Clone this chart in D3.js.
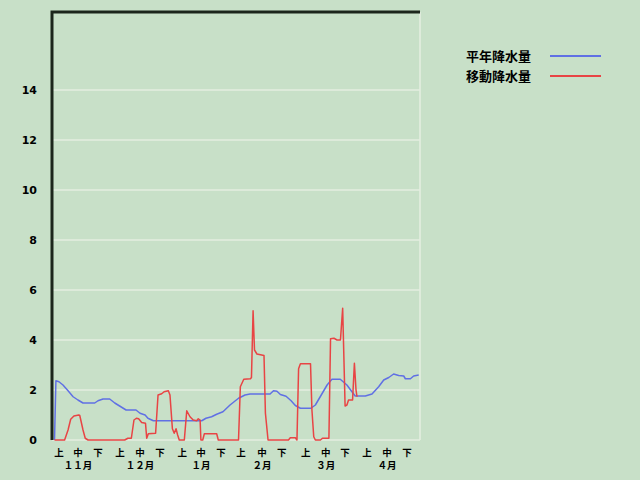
<!DOCTYPE html>
<html><head><meta charset="utf-8">
<script src="https://cdn.jsdelivr.net/npm/d3@7"></script>
<style>
html,body{margin:0;padding:0;background:#c8e0c8;}
svg{display:block;}
</style></head>
<body>
<svg id="chart" width="640" height="480"></svg>
<script>
// ---- data (x = day index from 1 Nov) ----
const normalDays = [0,0.7,2.2,4.2,6.7,9.2,11.6,14.1,19.9,21.5,24.0,27.3,29.8,32.2,35.4,40.3,42.3,44.8,46.2,48.9,72.8,74.9,77.7,80.2,83.3,86.8,91.0,94.2,96.7,106.6,108.3,110.0,111.7,114.5,117.0,119.1,121.6,126.8,129.0,131.4,134.8,137.2,141.3,144.6,147.1,148.7,153.7,157.0,160.3,162.8,165.3,167.7,170.2,172.7,173.5,176.0,177.6,180.1];
const normalValues = [0,2.37,2.33,2.2,1.97,1.73,1.6,1.48,1.48,1.57,1.64,1.64,1.48,1.36,1.2,1.2,1.07,1.0,0.87,0.77,0.77,0.87,0.93,1.03,1.13,1.4,1.67,1.8,1.84,1.84,1.97,1.95,1.82,1.75,1.57,1.38,1.27,1.27,1.4,1.73,2.2,2.43,2.43,2.2,1.93,1.76,1.76,1.84,2.13,2.4,2.5,2.64,2.58,2.56,2.45,2.45,2.56,2.6];
const movingDays = [0,5.0,6.7,8.0,9.6,12.0,12.5,14.1,15.2,16.6,34.7,36.3,38.0,39.3,40.5,41.6,43.1,45.0,45.6,46.4,50.0,51.2,53.0,54.2,56.3,57.1,58.3,59.2,60.1,60.9,61.7,64.2,65.4,67.0,68.6,70.3,71.1,72.0,72.4,73.3,74.1,80.2,81.0,91.0,91.9,93.6,96.9,97.4,98.2,98.9,100.1,103.6,104.3,105.6,115.7,116.6,119.1,119.9,120.7,121.6,126.6,127.3,128.2,129.0,131.5,132.5,135.7,136.5,138.2,139.7,141.4,142.5,143.7,144.6,145.4,147.4,148.3,149.1,149.6];
const movingValues = [0,0,0.4,0.83,0.96,1.0,0.98,0.4,0.07,0,0,0.07,0.07,0.8,0.87,0.85,0.7,0.67,0.07,0.25,0.27,1.8,1.85,1.93,1.97,1.8,0.45,0.27,0.45,0.2,0,0,1.17,0.93,0.8,0.77,0.85,0.8,0,0,0.25,0.25,0,0,2.13,2.43,2.45,2.5,5.17,3.6,3.44,3.38,1.07,0,0,0.09,0.09,0,2.85,3.05,3.05,1.2,0.13,0,0,0.07,0.07,4.05,4.07,4.0,4.0,5.27,1.36,1.4,1.6,1.6,3.07,2.0,1.73];
const periodLabels = ["上","中","下","上","中","下","上","中","下","上","中","下","上","中","下","上","中","下"];
const periodDays = [2.2,11.6,21.5,32.4,42.3,52.2,63.2,72.4,82.3,92.2,102.6,112.4,124.3,134.2,143.6,154.5,164.4,174.3];
const monthLabels = ["１１月","１２月","１月","２月","３月","４月"];
const yTicks = [0,2,4,6,8,10,12,14];
const seriesNames = ["平年降水量","移動降水量"];
const seriesColors = ["#6070e4","#e84444"];

const svg = d3.select("#chart");
const L = 52, R = 420, T = 12, B = 440;
const x = d3.scaleLinear().domain([0,180]).range([54.5,418.5]);
const y = d3.scaleLinear().domain([0,17.12]).range([B,T]);

svg.append("rect").attr("width",640).attr("height",480).attr("fill","#c8e0c8");

// gridlines
svg.append("g").selectAll("line").data(yTicks).join("line")
  .attr("x1",L).attr("x2",R).attr("y1",d=>y(d)).attr("y2",d=>y(d))
  .attr("stroke","#e4eee0").attr("stroke-width",1.6);
// right border
svg.append("line").attr("x1",R).attr("x2",R).attr("y1",T).attr("y2",B)
  .attr("stroke","#e4eee0").attr("stroke-width",1.6);

// y tick labels
svg.append("g").selectAll("text").data(yTicks).join("text")
  .attr("x",37).attr("y",d=>y(d)).attr("dy","0.36em")
  .attr("text-anchor","end")
  .attr("font-family","'DejaVu Sans', sans-serif").attr("font-weight","bold")
  .attr("font-size",11).attr("fill","#000").text(d=>d);

// x labels
const tf = "'Noto Sans CJK JP', sans-serif";
svg.append("g").selectAll("text").data(periodLabels).join("text")
  .attr("x",(d,i)=>x(periodDays[i])).attr("y",456)
  .attr("text-anchor","middle").attr("font-family",tf).attr("font-weight","bold")
  .attr("font-size",9.5).attr("fill","#000").text(d=>d);
svg.append("g").selectAll("text").data(monthLabels).join("text")
  .attr("x",(d,i)=>x(periodDays[i*3+1])).attr("y",469)
  .attr("text-anchor","middle").attr("font-family",tf).attr("font-weight","bold")
  .attr("font-size",9.5).attr("fill","#000").text(d=>d);

// lines
const line = d3.line().x(d=>x(d[0])).y(d=>y(d[1]));
const normal = normalDays.map((d,i)=>[d,normalValues[i]]);
const moving = movingDays.map((d,i)=>[d,movingValues[i]]);
svg.append("path").datum(normal).attr("d",line).attr("fill","none")
  .attr("stroke",seriesColors[0]).attr("stroke-width",1.5).attr("stroke-linejoin","round");
svg.append("path").datum(moving).attr("d",line).attr("fill","none")
  .attr("stroke",seriesColors[1]).attr("stroke-width",1.5).attr("stroke-linejoin","round");

// frame: dark left + top
svg.append("path").attr("d",`M${L},${B} V${T} H${R}`).attr("fill","none")
  .attr("stroke","#1c261c").attr("stroke-width",3);

// legend
const lg = svg.append("g").selectAll("g").data(seriesNames).join("g")
  .attr("transform",(d,i)=>`translate(0,${56+i*20})`);
lg.append("text").attr("x",466).attr("y",0).attr("dy","0.36em")
  .attr("font-family",tf).attr("font-weight","bold").attr("font-size",13)
  .attr("fill","#000").text(d=>d);
lg.append("line").attr("x1",550).attr("x2",601).attr("y1",0).attr("y2",0)
  .attr("stroke",(d,i)=>seriesColors[i]).attr("stroke-width",2);
</script>
</body></html>
